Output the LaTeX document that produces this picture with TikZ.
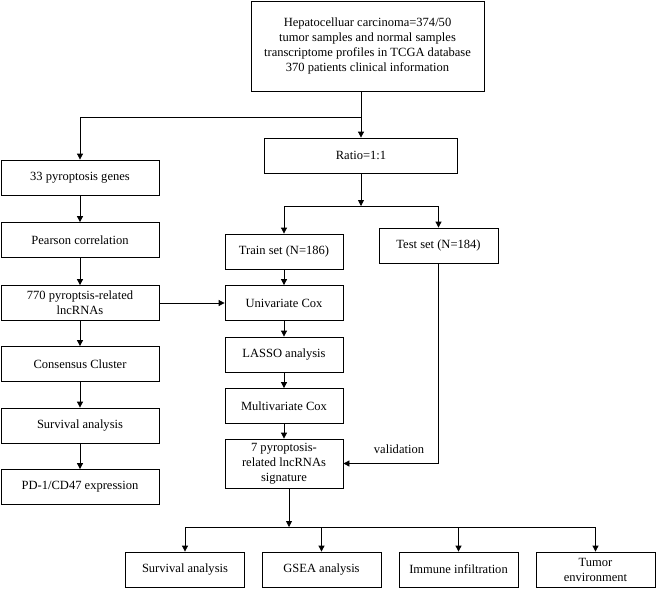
\documentclass[tikz,border=0pt]{standalone}
\usepackage{fontspec}
\setmainfont{Liberation Serif}
\usetikzlibrary{arrows.meta}
\begin{document}
\begin{tikzpicture}[x=0.75pt, y=-0.75pt,
        box/.style={draw, rectangle, line width=0.6pt, inner sep=0pt, align=center,
            minimum width=88.5pt, minimum height=26.25pt,
            font=\fontsize{9.4pt}{11.25pt}\selectfont},
        flow/.style={line width=0.6pt, -{Triangle[length=4.5pt, width=4.5pt]}}]
        \useasboundingbox (0,0) rectangle (657,589);
        % Data source and split
        \node[box, minimum width=174.75pt, minimum height=67.5pt] (data) at (367.5,46) {Hepatocelluar carcinoma=374/50\\tumor samples and normal samples\\transcriptome profiles in TCGA database\\370 patients clinical information};
        \node[box, minimum width=144.75pt] (ratio) at (361,155.5) {Ratio=1:1};

        % Left branch
        \node[box, minimum width=118.5pt] (genes) at (80,177.5) {33 pyroptosis genes};
        \node[box, minimum width=118.5pt] (pearson) at (80,240) {Pearson correlation};
        \node[box, minimum width=118.5pt] (lnc) at (80,303) {770 pyroptsis-related\\lncRNAs};
        \node[box, minimum width=118.5pt] (cluster) at (80,364) {Consensus Cluster};
        \node[box, minimum width=118.5pt] (survleft) at (80,425.5) {Survival analysis};
        \node[box, minimum width=118.5pt] (pdexpr) at (80,487) {PD-1/CD47 expression};

        % Model building
        \node[box] (train) at (284,251.5) {Train set (N=186)};
        \node[box, minimum width=89.25pt] (test) at (438.5,245.5) {Test set (N=184)};
        \node[box] (unicox) at (284,303) {Univariate Cox};
        \node[box] (lasso) at (284,354.5) {LASSO analysis};
        \node[box] (multicox) at (284,406) {Multivariate Cox};
        \node[box, minimum height=36.75pt] (sig) at (284,463.5) {7 pyroptosis-\\related lncRNAs\\signature};
        \node[font=\fontsize{9.4pt}{11.25pt}\selectfont] (valid) at (399,449) {validation};

        % Downstream analyses
        \node[box, minimum width=89.25pt] (survbot) at (185,569.5) {Survival analysis};
        \node[box, minimum width=89.25pt] (gsea) at (321.5,569.5) {GSEA analysis};
        \node[box, minimum width=89.25pt] (immune) at (458.5,569.5) {Immune infiltration};
        \node[box, minimum width=89.25pt] (tumor) at (595.5,569.5) {Tumor\\environment};

        \coordinate (split1) at (361,117);
        \coordinate (split2) at (361,206);
        \coordinate (split3) at (289,527);

        \draw[flow] (data.south -| ratio.north) -- (ratio.north);
        \draw[flow] (split1) -| (genes.north);
        \draw[flow] (ratio.south) -- (split2);
        \draw[flow] (split2) -| (train.north);
        \draw[flow] (split2) -| (test.north);

        \foreach \src/\dest in {genes/pearson, pearson/lnc, lnc/cluster, cluster/survleft, survleft/pdexpr,
            train/unicox, unicox/lasso, lasso/multicox, multicox/sig} {
            \draw[flow] (\src.south) -- (\dest.north);
        }

        \draw[flow] (lnc.east) -- (lnc.east -| unicox.west);
        \draw[flow] (test.south) |- (sig.east);
        \draw[flow] (sig.south -| split3) -- (split3);

        \foreach \dest in {survbot,gsea,immune,tumor} {
            \draw[flow] (split3) -| (\dest.north);
        }
    \end{tikzpicture}
\end{document}
